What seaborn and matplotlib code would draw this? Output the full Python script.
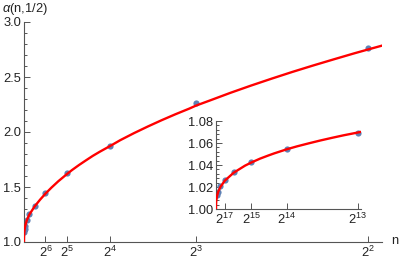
import numpy as np
import pandas as pd
import matplotlib
matplotlib.use("Agg")
import matplotlib.pyplot as plt
import seaborn as sns
from matplotlib.ticker import FixedLocator, MultipleLocator, AutoMinorLocator

sns.set_style("ticks")
plt.rcParams['font.family'] = ['Liberation Sans', 'DejaVu Sans']
plt.rcParams['mathtext.fontset'] = 'custom'
plt.rcParams['mathtext.rm'] = 'Liberation Sans'
plt.rcParams['mathtext.it'] = 'Liberation Sans:italic'

# main panel: sample points at x = 1/n
main_exp = [2, 3, 4, 5, 6, 7, 8, 9, 10, 11, 12]
main_alpha = [2.76, 2.26, 1.875, 1.625, 1.448, 1.33, 1.255, 1.20, 1.145, 1.115, 1.09]

# main panel: red fitted curve
curve_x = [0.0, 2**-26, 2**-22, 2**-20, 2**-16, 2**-13, 2**-12, 2**-11, 2**-10, 2**-9,
           2**-8, 2**-7, 0.0117, 2**-6, 0.02, 0.025, 2**-5, 0.035, 0.04, 0.045,
           0.05, 0.055, 2**-4, 0.07, 0.08, 0.09, 0.10, 0.11, 0.12, 2**-3,
           0.135, 0.15, 0.165, 0.18, 0.195, 0.21, 0.225, 0.24, 2**-2, 0.261]
curve_y = [1.0, 1.0028, 1.0075, 1.012, 1.0336, 1.069, 1.09, 1.117, 1.15, 1.195,
           1.25, 1.325, 1.385, 1.44, 1.495, 1.553, 1.618, 1.655, 1.70, 1.742,
           1.783, 1.82, 1.872, 1.926, 1.99, 2.05, 2.107, 2.161, 2.212, 2.24,
           2.286, 2.356, 2.422, 2.485, 2.546, 2.604, 2.66, 2.715, 2.75, 2.788]

# inset: large n
inset_exp = [13, 14, 15, 16, 17, 18, 19, 20]
inset_alpha = [1.0695, 1.055, 1.043, 1.0336, 1.026, 1.0205, 1.0158, 1.0123]

inset_curve_x = [0.0, 2**-26, 2**-24, 2**-22, 2**-20, 2**-19, 2**-18, 2**-17, 2**-16,
                 2.5e-5, 2**-15, 3.8e-5, 4.5e-5, 5e-5, 2**-14, 7e-5, 8e-5, 9e-5,
                 1e-4, 1.1e-4, 2**-13, 1.25e-4]
inset_curve_y = [1.0, 1.0028, 1.0045, 1.0075, 1.0122, 1.0157, 1.0201, 1.0258, 1.033,
                 1.0394, 1.0423, 1.0458, 1.0486, 1.0505, 1.0543, 1.057, 1.0597, 1.0623,
                 1.0647, 1.067, 1.0695, 1.0701]

main_ticks = [2, 3, 4, 5, 6]
inset_ticks = [13, 14, 15, 17]

pts = pd.DataFrame({"x": [2.0**-e for e in main_exp], "y": main_alpha})
crv = pd.DataFrame({"x": curve_x, "y": curve_y})
ipts = pd.DataFrame({"x": [2.0**-e for e in inset_exp], "y": inset_alpha})
icrv = pd.DataFrame({"x": inset_curve_x, "y": inset_curve_y})

blue = "#5E81B5"
red = "#FF0000"
axcol = "#555555"

fig = plt.figure(figsize=(3.99, 2.61), dpi=100)
ax = fig.add_axes([24/399, 19/261, 358/399, 220/261])
ins = fig.add_axes([216/399, 52/261, 145/399, 88/261])


def style(a):
    for s in ["top", "right"]:
        a.spines[s].set_visible(False)
    for s in ["left", "bottom"]:
        a.spines[s].set_color(axcol)
        a.spines[s].set_linewidth(0.8)
    a.tick_params(which="both", direction="in", color=axcol, labelsize=9.3,
                  labelcolor="#222222", width=0.7, pad=2)
    a.tick_params(which="major", length=4)
    a.tick_params(which="minor", length=2.2)
    a.set_xlabel("")
    a.set_ylabel("")
    a.patch.set_alpha(0)


sns.scatterplot(data=pts, x="x", y="y", ax=ax, color=blue, s=20, linewidth=0, zorder=2)
sns.lineplot(data=crv, x="x", y="y", ax=ax, color=red, lw=1.7, sort=False,
             estimator=None, zorder=3)
ax.set_xlim(0, 0.2602)
ax.set_ylim(1.0, 3.0)
ax.xaxis.set_major_locator(FixedLocator([2.0**-e for e in main_ticks]))
ax.set_xticklabels([f"$2^{{{e}}}$" for e in main_ticks])
ax.yaxis.set_major_locator(MultipleLocator(0.5))
ax.yaxis.set_minor_locator(MultipleLocator(0.1))
ax.yaxis.set_major_formatter(matplotlib.ticker.FormatStrFormatter("%.1f"))
style(ax)

sns.scatterplot(data=ipts, x="x", y="y", ax=ins, color=blue, s=20, linewidth=0, zorder=2)
sns.lineplot(data=icrv, x="x", y="y", ax=ins, color=red, lw=1.7, sort=False,
             estimator=None, zorder=3)
ins.set_xlim(0, 1.25e-4)
ins.set_ylim(1.0, 1.08)
ins.xaxis.set_major_locator(FixedLocator([2.0**-e for e in inset_ticks]))
ins.set_xticklabels([f"$2^{{{e}}}$" for e in inset_ticks])
ins.yaxis.set_major_locator(MultipleLocator(0.02))
ins.yaxis.set_minor_locator(AutoMinorLocator(5))
ins.yaxis.set_major_formatter(matplotlib.ticker.FormatStrFormatter("%.2f"))
style(ins)

fig.text(2/399, 1 - 9/261, r"$\it{\alpha}$(n,1/2)", fontsize=9.3, va="center",
         ha="left", color="#222222")
fig.text(391/399, 1 - 241/261, "n", fontsize=9.3, va="center", ha="left",
         color="#222222")

fig.savefig("out.png", dpi=100)
